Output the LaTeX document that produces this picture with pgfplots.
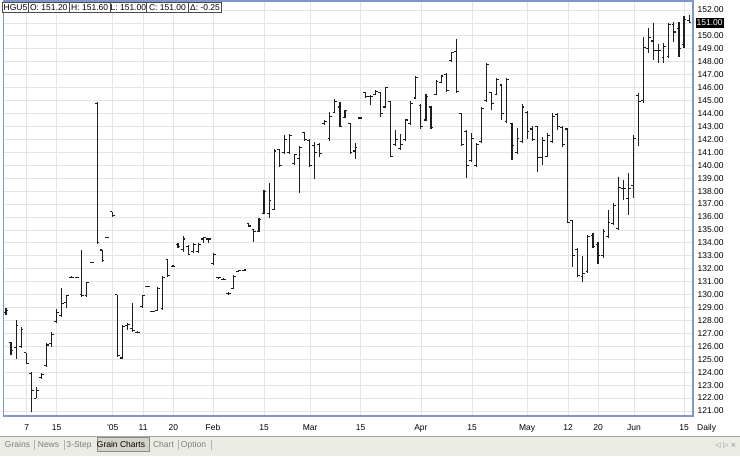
\documentclass[border=0pt]{standalone}
\usepackage{fontspec}
\setmainfont{Liberation Sans}
\newfontfamily\dejavu{DejaVu Sans}
\usepackage{pgfplots}
\usepackage{pgfplotstable}
\pgfplotsset{compat=1.18}

\definecolor{framec}{RGB}{125,150,205}
\definecolor{gridc}{RGB}{228,228,228}
\definecolor{barc}{RGB}{30,30,30}
\definecolor{tabbg}{RGB}{236,236,230}
\definecolor{tabsel}{RGB}{212,210,202}
\definecolor{tabtxt}{RGB}{125,125,125}

% open tick to the left, close tick to the right
\pgfdeclareplotmark{otick}{%
  \pgfpathmoveto{\pgfqpoint{-2.3pt}{0pt}}\pgfpathlineto{\pgfqpoint{0pt}{0pt}}\pgfusepathqstroke}
\pgfdeclareplotmark{ctick}{%
  \pgfpathmoveto{\pgfqpoint{0pt}{0pt}}\pgfpathlineto{\pgfqpoint{2.3pt}{0pt}}\pgfusepathqstroke}

% daily bars, HGU5 (trading day index, open, high, low, close)
\pgfplotstableread{
i o h l c
0 128.6 128.96 128.42 128.8
1 126.3 126.35 125.3 125.7
2 125.9 128.0 125.0 127.6
3 126.0 127.5 125.85 127.3
4 125.5 125.5 124.6 124.7
5 123.9 124.0 120.9 122.6
6 122.0 122.85 122.0 122.6
7 123.6 123.9 123.5 123.8
8 124.5 126.25 124.4 126.1
9 126.2 127.1 125.95 126.9
10 127.9 128.9 127.8 128.6
11 128.4 130.5 128.3 129.3
12 129.4 130.0 129.0 129.9
13 131.3 131.4 131.3 131.35
14 131.3 131.35 131.25 131.3
15 130.0 133.45 129.8 129.9
16 129.9 131.0 129.8 130.9
17 132.5 132.55 132.45 132.5
18 144.8 144.9 133.9 134.0
19 133.45 133.45 132.5 132.6
20 134.4 134.45 134.35 134.4
21 136.4 136.4 136.0 136.1
22 130.0 130.0 125.2 125.3
23 125.1 127.65 125.0 127.5
24 127.6 127.8 127.3 127.7
25 127.4 129.35 127.1 127.2
26 127.1 127.15 127.05 127.1
27 129.1 130.0 129.0 129.9
28 130.6 130.65 130.55 130.6
29 128.7 128.75 128.65 128.7
30 128.8 130.6 128.8 130.5
31 128.9 131.4 128.8 131.3
32 132.7 132.75 131.35 131.5
33 132.2 132.25 132.15 132.2
34 133.9 134.0 133.6 133.7
35 133.5 134.5 133.3 134.3
36 133.7 133.8 133.05 133.1
37 133.3 134.0 133.2 133.9
38 133.3 134.0 133.2 133.9
39 134.3 134.45 134.0 134.4
40 134.3 134.4 134.0 134.3
41 132.4 133.2 132.3 133.1
42 131.3 131.35 131.2 131.3
43 131.2 131.3 131.1 131.2
44 130.1 130.2 130.0 130.1
45 130.5 131.5 130.4 131.4
46 131.8 131.9 131.75 131.85
47 131.85 131.9 131.8 131.9
48 135.5 135.5 135.2 135.3
49 135.0 135.0 134.1 134.9
50 134.9 135.9 134.8 135.8
51 136.3 138.1 136.2 138.0
52 136.3 138.6 135.9 137.3
53 136.6 141.25 136.5 141.1
54 141.2 141.25 139.9 140.0
55 141.0 142.3 140.9 142.0
56 141.0 142.4 140.9 142.3
57 140.1 140.9 140.0 140.8
58 140.5 141.5 137.85 141.4
59 142.5 142.6 141.9 142.0
60 141.9 142.0 139.9 140.0
61 141.5 141.8 138.9 141.0
62 141.6 141.7 140.6 140.9
63 143.2 143.5 143.1 143.4
64 142.1 144.1 141.9 143.8
65 144.1 145.1 144.0 144.9
66 144.5 144.9 142.95 143.0
67 143.7 144.3 143.65 144.2
68 143.2 143.3 140.9 141.0
69 141.1 141.7 140.5 141.4
70 143.65 143.7 143.6 143.65
71 145.6 145.65 145.2 145.3
72 145.3 145.4 144.65 145.3
73 145.5 145.8 145.4 145.7
74 145.6 145.65 143.7 144.0
75 144.5 146.05 144.4 146.0
76 144.9 145.0 140.6 140.7
77 141.6 142.7 141.5 142.0
78 141.3 142.4 141.2 141.6
79 142.0 143.6 141.9 143.5
80 143.2 145.0 143.1 144.8
81 145.2 146.9 145.1 146.8
82 144.6 144.7 142.8 143.0
83 143.5 145.5 143.4 145.3
84 144.5 144.6 142.8 142.9
85 145.5 146.6 145.4 146.5
86 146.4 147.0 146.35 146.9
87 147.0 147.1 145.65 145.8
88 148.1 148.75 148.0 148.7
89 148.8 149.75 145.6 145.7
90 144.0 144.0 141.5 141.6
91 142.6 142.7 139.0 140.0
92 140.4 142.5 140.25 142.1
93 140.0 141.7 139.9 141.6
94 141.8 144.5 141.7 144.4
95 145.0 147.9 144.9 147.8
96 145.6 145.65 144.3 144.8
97 145.5 146.75 145.4 146.6
98 146.2 146.3 143.5 144.0
99 143.4 146.75 143.3 146.6
100 143.2 143.3 140.4 141.5
101 141.0 142.9 140.9 142.1
102 141.8 144.7 141.7 144.5
103 144.1 144.2 142.0 142.6
104 142.8 143.0 141.9 142.0
105 143.0 143.0 139.45 140.6
106 140.6 142.2 140.0 141.9
107 140.7 142.5 140.6 142.3
108 141.8 144.0 141.7 143.8
109 143.9 144.0 142.7 143.0
110 142.9 143.0 141.4 141.6
111 142.8 142.9 135.5 135.6
112 135.7 135.8 132.1 133.0
113 133.5 133.6 131.35 131.5
114 131.4 133.0 131.0 131.6
115 131.8 134.6 131.7 134.5
116 134.6 134.75 133.6 133.7
117 133.9 134.05 132.4 133.0
118 133.0 135.1 132.8 134.9
119 134.5 136.5 134.4 135.6
120 135.5 137.1 135.4 136.9
121 135.1 139.1 135.0 138.3
122 138.2 138.85 137.3 138.2
123 137.4 139.4 136.15 138.2
124 138.4 142.3 137.5 142.1
125 145.4 145.6 141.5 144.9
126 145.0 149.9 144.8 149.1
127 149.0 150.6 148.7 149.9
128 149.6 151.0 148.1 148.9
129 148.9 149.4 147.9 148.9
130 148.3 149.45 147.9 149.2
131 148.4 151.0 148.3 150.9
132 150.9 151.1 149.5 150.3
133 150.6 151.1 148.4 149.0
134 149.3 151.55 149.1 151.25
135 151.2 151.6 151.0 151.0
}\hgu

\begin{document}
\begin{tikzpicture}[font=\fontsize{8.5}{10}\selectfont]
\useasboundingbox (0pt,0pt) rectangle (740pt,456pt);
\fill[white] (0pt,0pt) rectangle (740pt,456pt);
% tab strip at the bottom
\fill[tabbg] (0pt,0pt) rectangle (740pt,19.5pt);
\draw[black!35, line width=0.8pt] (0pt,19.5pt) -- (740pt,19.5pt);

\begin{axis}[
    at={(3.5pt,40pt)}, anchor=south west,
    scale only axis, width=689.5pt, height=415pt,
    xmin=-0.49, xmax=135.77,
    ymin=120.613, ymax=152.696,
    axis line style={framec, line width=1.3pt},
    xtick={4.1,10,21.1,27.1,33.1,40.9,51,60.1,70.1,82,92.1,103,111.1,117,124.1,134},
    xticklabels={7,15,'05,11,20,Feb,15,Mar,15,Apr,15,May,12,20,Jun,15},
    ytick={121,122,...,152},
    yticklabel pos=right,
    yticklabel={\pgfmathprintnumber[fixed,fixed zerofill,precision=2,assume math mode=true]{\tick}},
    major tick length=0pt,
    xticklabel style={anchor=base, inner sep=0pt, yshift=-14pt},
    yticklabel style={anchor=west, inner sep=0pt, xshift=4.5pt},
    grid=major,
    grid style={gridc, line width=0.8pt},
    clip=false,
]
% high-low range of each day
\addplot[barc, line width=1.1pt, quiver={u=0, v=\thisrow{h}-\thisrow{l}}]
    table[x=i, y=l] {\hgu};
% open and close ticks
\addplot[only marks, mark=otick, barc, mark options={line width=1.1pt}]
    table[x=i, y=o] {\hgu};
\addplot[only marks, mark=ctick, barc, mark options={line width=1.1pt}]
    table[x=i, y=c] {\hgu};

% last price marker
\node[fill=black, text=white, anchor=west, inner sep=0pt,
      minimum width=27.6pt, minimum height=10pt, xshift=2.7pt]
    at (axis cs:135.77,151) {151.00};
\node[anchor=base west, inner sep=0pt] at (axis cs:135.77,120.613) [xshift=4pt, yshift=-14pt] {Daily};
\end{axis}

% quote box at the top left
\foreach \xa/\xb/\t in {2.7/28.3/HGU5, 28.3/69.3/{O: 151.20}, 69.3/110/{H: 151.60},
                         110/146.7/{L: 151.00}, 146.7/188.3/{C: 151.00}, 188.3/221.7/{Δ: -0.25}} {
  \draw[black!70, fill=white, line width=0.8pt] (\xa pt,443.3pt) rectangle (\xb pt,453.3pt);
  \node[inner sep=0pt] at ({(\xa+\xb)/2*1pt},448.3pt) {\t};
}

% tabs
\fill[tabsel] (97pt,5pt) rectangle (149pt,18.5pt);
\draw[black!45, line width=0.6pt] (97pt,5pt) rectangle (149pt,18.5pt);
\foreach \xs in {34,64,178,211} {
  \draw[black!30, line width=0.6pt] (\xs pt,6.5pt) -- (\xs pt,16.5pt);
}
\begin{scope}[every node/.style={anchor=base, inner sep=0pt, text=tabtxt}]
\node at (17.5pt,9pt) {Grains};
\node at (48.5pt,9pt) {News};
\node at (79pt,9pt) {3-Step};
\node[text=black] at (121pt,9pt) {Grain Charts};
\node at (163.5pt,9pt) {Chart};
\node at (193.5pt,9pt) {Option};
\end{scope}
\node[anchor=base, inner sep=0pt, text=black!45] at (726pt,9pt) {\dejavu\fontsize{7}{8}\selectfont ◁ ▷ ×};
\end{tikzpicture}
\end{document}
